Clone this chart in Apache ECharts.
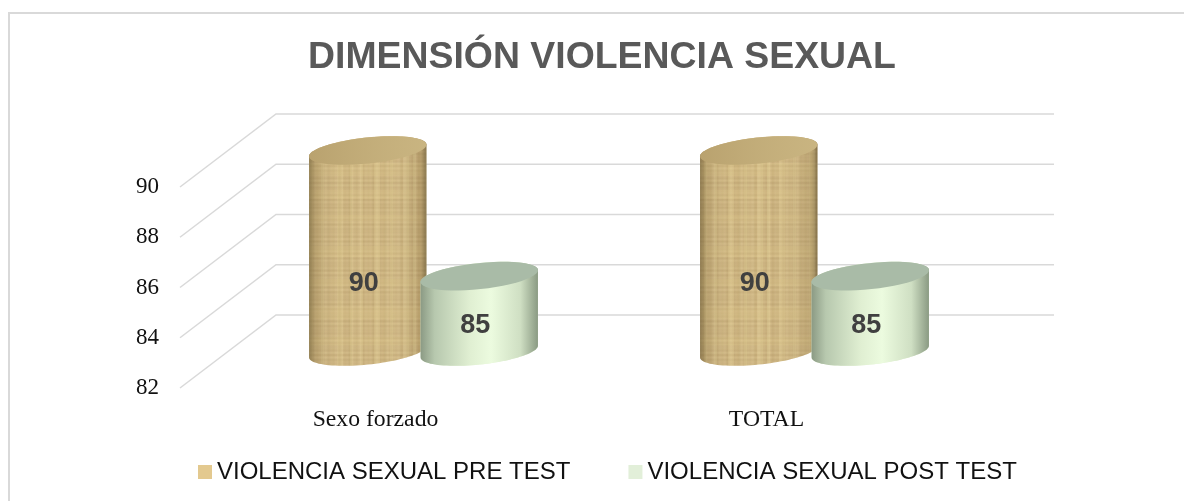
<!DOCTYPE html>
<html><head><meta charset="utf-8">
<style>html,body{margin:0;padding:0;background:#fff}#c{width:1184px;height:501px}</style>
<script src="https://cdn.jsdelivr.net/npm/echarts@6/dist/echarts.min.js"></script>
</head><body><div id="c"></div>
<script>
const chartTitle = 'DIMENSIÓN VIOLENCIA SEXUAL';
const categories = ['Sexo forzado', 'TOTAL'];
const seriesNames = ['VIOLENCIA SEXUAL PRE TEST', 'VIOLENCIA SEXUAL POST TEST'];
const preTest = [90, 90];
const postTest = [85, 85];
const yTicks = [82, 84, 86, 88, 90];

// deterministic woven-wood texture tile
function woodTile() {
  const c = document.createElement('canvas'); c.width = 118; c.height = 206;
  const g = c.getContext('2d');
  g.fillStyle = '#d9c18e'; g.fillRect(0, 0, 118, 206);
  for (let x = 0; x < 118; x += 1) {
    const a = 0.10 * (1 + Math.sin(x * 0.9) * Math.sin(x * 0.23)) + 0.06 * Math.abs(Math.sin(x * 0.07));
    g.fillStyle = 'rgba(150,118,62,' + a.toFixed(3) + ')';
    g.fillRect(x, 0, 1, 206);
  }
  for (let y = 0; y < 206; y += 1) {
    const a = 0.09 * (1 + Math.sin(y * 1.3) * Math.cos(y * 0.19));
    g.fillStyle = 'rgba(135,105,55,' + a.toFixed(3) + ')';
    g.fillRect(0, y, 118, 1);
  }
  for (let i = 0; i < 9; i++) {
    g.fillStyle = 'rgba(240,225,165,0.20)';
    g.fillRect(6 + i * 13 + (i * i) % 5, 0, 3 + (i * 3) % 6, 206);
  }
  for (let i = 0; i < 7; i++) {
    g.fillStyle = 'rgba(225,205,140,0.18)';
    g.fillRect(0, 9 + i * 30 + (i * i) % 7, 118, 6 + (i * 5) % 9);
  }
  return c;
}
const wood = { image: woodTile(), repeat: 'repeat' };

const DX = 96, DY = -73;           // depth vector of the 3D floor
const R = 59, B = 13, TILT = -6 * Math.PI / 180;

function ellipsePts(cx, cy, t0, t1) {
  const pts = [], n = 48;
  for (let i = 0; i <= n; i++) {
    const t = t0 + (t1 - t0) * i / n;
    pts.push([cx + R * Math.cos(t) * Math.cos(TILT) - B * Math.sin(t) * Math.sin(TILT),
              cy + R * Math.cos(t) * Math.sin(TILT) + B * Math.sin(t) * Math.cos(TILT)]);
  }
  return pts;
}

function cylinder(offsetRatio, look) {
  return function (params, api) {
    const idx = api.value(0), val = api.value(1);
    const band = api.size([1, 0])[0];
    const top = api.coord([idx, val]), base = api.coord([idx, yTicks[0]]);
    const cx = top[0] + DX / 2 + band * offsetRatio;
    const ty = top[1] + DY / 2, by = base[1] + DY / 2;
    // silhouette extreme angle of a tilted ellipse
    const t0 = Math.atan2(-B * Math.sin(TILT), R * Math.cos(TILT));
    const body = ellipsePts(cx, by, t0, t0 + Math.PI)
      .concat(ellipsePts(cx, ty, t0 + Math.PI, t0 + 2 * Math.PI));
    const capPts = ellipsePts(cx, ty, 0, 2 * Math.PI);
    const kids = [];
    kids.push({ type: 'polygon', silent: true, shape: { points: body }, style: { fill: look.body } });
    kids.push({ type: 'polygon', silent: true, shape: { points: body }, style: { fill: look.shade } });
    kids.push({ type: 'polygon', silent: true, shape: { points: capPts }, style: { fill: look.cap } });
    if (look.capTint) kids.push({ type: 'polygon', silent: true, shape: { points: capPts }, style: { fill: look.capTint } });
    kids.push({ type: 'text', silent: true, z2: 10, style: {
      x: cx - 4, y: ty + (by - ty) * 0.66, text: String(val), align: 'center', verticalAlign: 'middle',
      fill: '#404040', font: 'bold 27px "Liberation Sans"' } });
    return { type: 'group', children: kids };
  };
}

function hGrad(stops) {
  return { type: 'linear', x: 0, y: 0, x2: 1, y2: 0, colorStops: stops };
}
const lookPre = {
  body: wood,
  shade: hGrad([
    { offset: 0, color: 'rgba(95,80,45,0.55)' }, { offset: 0.06, color: 'rgba(120,100,60,0.22)' },
    { offset: 0.25, color: 'rgba(255,245,210,0.06)' }, { offset: 0.7, color: 'rgba(255,245,210,0.08)' },
    { offset: 0.95, color: 'rgba(120,100,60,0.22)' }, { offset: 1, color: 'rgba(85,72,42,0.6)' }]),
  cap: '#c8b27e', capTint: hGrad([{ offset: 0, color: 'rgba(150,125,75,0.3)' }, { offset: 1, color: 'rgba(205,190,140,0.2)' }])
};
const lookPost = {
  body: '#e6f4d8',
  shade: hGrad([
    { offset: 0, color: '#8b9a84' }, { offset: 0.12, color: '#b7c8ae' }, { offset: 0.42, color: '#e0efd2' },
    { offset: 0.6, color: '#ecfbdf' }, { offset: 0.85, color: '#cfdfc3' }, { offset: 1, color: '#8a9a83' }]),
  cap: '#a9bba7'
};

function wallItem(params, api) {
  const sys = params.coordSys;
  const p = api.coord([0, api.value(1)]);
  const x0 = sys.x, x1 = sys.x + sys.width;
  return { type: 'polyline', silent: true,
    shape: { points: [[x0, p[1]], [x0 + DX, p[1] + DY], [x1 + DX - 4, p[1] + DY]] },
    style: { stroke: '#d9d9d9', lineWidth: 1.5, fill: null } };
}

const chart = echarts.init(document.getElementById('c'), null, { renderer: 'canvas' });
chart.setOption({
  animation: false,
  backgroundColor: '#fff',
  title: { text: chartTitle, left: 597, top: 34, textAlign: 'center',
    textStyle: { fontFamily: 'Liberation Sans', fontWeight: 'bold', fontSize: 37.4, color: '#595959' } },
  grid: { left: 180, right: 222, top: 187, bottom: 113 },
  legend: { data: seriesNames, left: 193, top: 455, itemWidth: 14, itemHeight: 14, itemGap: 58, icon: 'rect',
    selectedMode: false, textStyle: { fontFamily: 'Liberation Sans', fontSize: 24, color: '#111' } },
  xAxis: { type: 'category', data: categories, axisLine: { show: false }, axisTick: { show: false },
    axisLabel: { margin: 20, fontFamily: 'Liberation Serif', fontSize: 23.7, color: '#111' } },
  yAxis: { type: 'value', min: 82, max: 90, interval: 2, splitLine: { show: false },
    axisLine: { show: false }, axisTick: { show: false },
    axisLabel: { margin: 21, padding: [3, 0, 0, 0], fontFamily: 'Liberation Serif', fontSize: 23, color: '#111' } },
  graphic: [{ type: 'polyline', silent: true, shape: { points: [[9, 501], [9, 13], [1184, 13]] },
    style: { stroke: '#d9d9d9', lineWidth: 2, fill: null } }],
  series: [
    { type: 'custom', name: 'wall', silent: true, renderItem: wallItem, encode: { x: 0, y: 1 },
      data: yTicks.map(v => [0, v]), z: 1 },
    { type: 'custom', name: seriesNames[0], silent: true, renderItem: cylinder(-0.1426, lookPre), encode: { x: 0, y: 1 },
      itemStyle: { color: '#e3c98f' }, data: preTest.map((v, i) => [i, v]), z: 2 },
    { type: 'custom', name: seriesNames[1], silent: true, renderItem: cylinder(0.1426, lookPost), encode: { x: 0, y: 1 },
      itemStyle: { color: '#e2efd9' }, data: postTest.map((v, i) => [i, v]), z: 3 }
  ]
});
</script></body></html>
